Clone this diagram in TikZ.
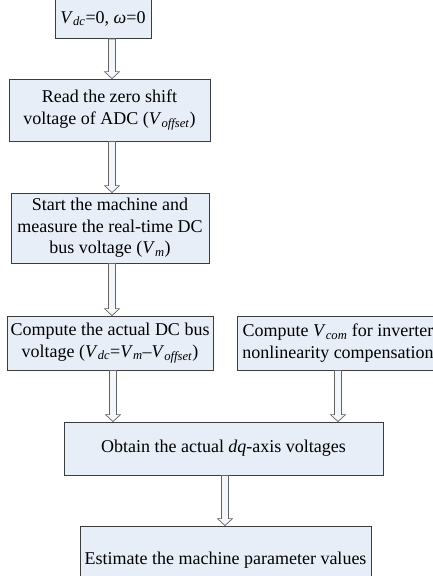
\documentclass[tikz,border=0pt]{standalone}
\usepackage{fontspec}
\setmainfont{Liberation Serif}
\usetikzlibrary{calc}
\definecolor{boxfill}{RGB}{232,238,247}
\definecolor{boxline}{RGB}{60,60,60}
\newcommand\Vsub[1]{\textit{V}\textsubscript{\textit{#1}}}
\newcommand\hollowarr[2]{%
  \draw[arrshape] let \p1=(#1), \p2=(#2.north) in
    (\x1-3.5pt,\y1) -- (\x1-3.5pt,\y2+7pt) -- (\x1-7.5pt,\y2+7pt) -- (\x1,\y2)
    -- (\x1+7.5pt,\y2+7pt) -- (\x1+3.5pt,\y2+7pt) -- (\x1+3.5pt,\y1) -- cycle;}
\tikzset{
  flowbox/.style={draw=boxline, fill=boxfill, line width=0.8pt, rectangle,
    inner sep=0pt, align=center, font=\fontsize{18}{21.5}\selectfont},
  arrshape/.style={draw=boxline!80, fill=boxfill!50, line width=0.7pt, line join=miter}
}
\begin{document}
\begin{tikzpicture}[x=1pt,y=-1pt]
\useasboundingbox (0,0) rectangle (433,576);
\clip (0,0) rectangle (433,576);
\node[flowbox, minimum width=96pt, minimum height=40pt] (b1) at (103,18.5)
  {\Vsub{dc}=0, \textit{ω}=0};
\node[flowbox, minimum width=201pt, minimum height=62pt] (b2) at (109.5,110)
  {Read the zero shift\\voltage of ADC (\Vsub{offset})};
\node[flowbox, minimum width=198pt, minimum height=70pt] (b3) at (110,228)
  {Start the machine and\\measure the real-time DC\\bus voltage (\Vsub{m})};
\node[flowbox, minimum width=206pt, minimum height=54pt] (b4l) at (110,343)
  {Compute the actual DC bus\\voltage (\Vsub{dc}=\Vsub{m}–\Vsub{offset})};
\node[flowbox, minimum width=202pt, minimum height=54pt] (b4r) at (338,343)
  {Compute \Vsub{com} for inverter\\nonlinearity compensation};
\node[flowbox, minimum width=319pt, minimum height=53pt] (b5) at (223.5,448.5)
  {Obtain the actual \textit{dq}-axis voltages};
\node[flowbox, minimum width=291pt, minimum height=68pt] (b6) at (225.5,560)
  {Estimate the machine parameter values};
\hollowarr{[xshift=9pt]b1.south}{b2}
\hollowarr{[xshift=2.5pt]b2.south}{b3}
\hollowarr{[xshift=2pt]b3.south}{b4l}
\hollowarr{[xshift=3pt]b4l.south}{b5}
\hollowarr{b4r.south}{b5}
\hollowarr{[xshift=1.5pt]b5.south}{b6}
\end{tikzpicture}
\end{document}
